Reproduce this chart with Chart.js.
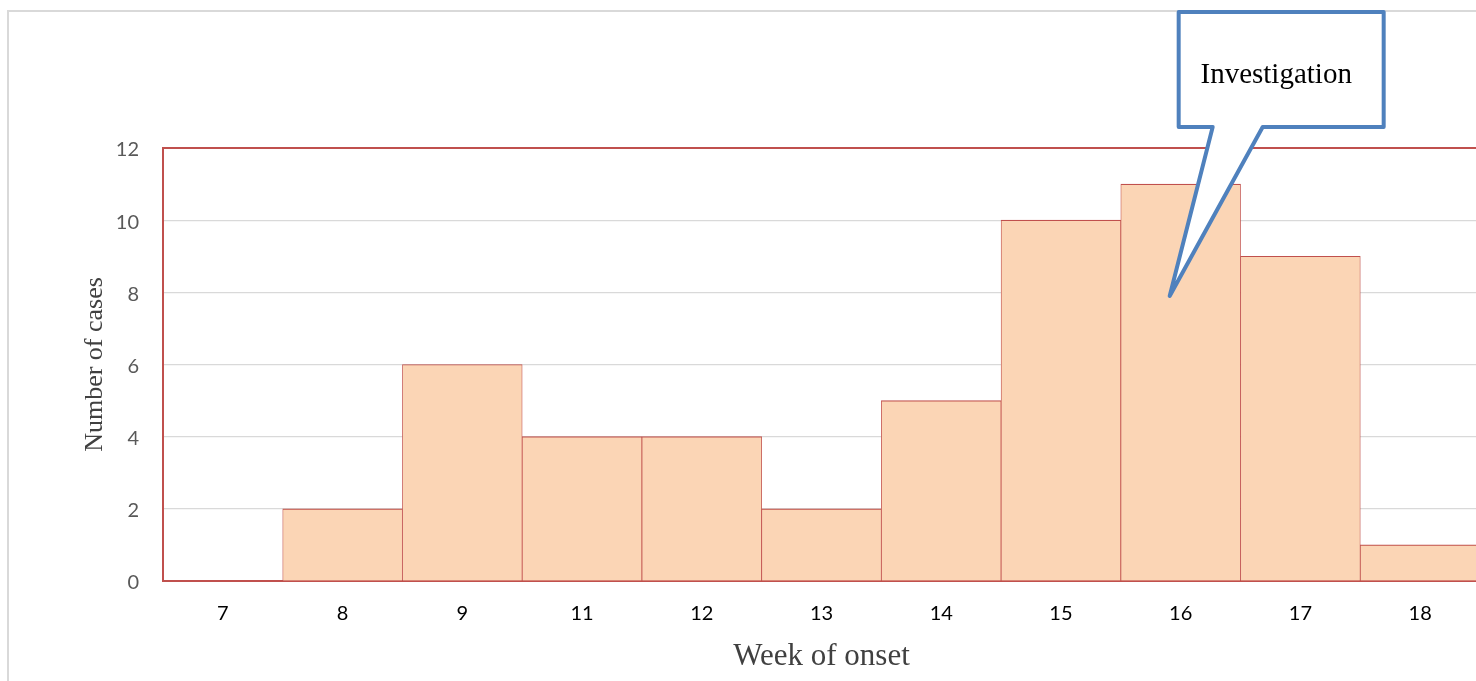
<!DOCTYPE html>
<html>
<head>
<meta charset="utf-8">
<title>Week of onset</title>
<script src="https://cdn.jsdelivr.net/npm/chart.js@4.4.1/dist/chart.umd.min.js"></script>
<style>
  html, body { margin: 0; padding: 0; background: #ffffff; overflow: hidden; width: 1476px; height: 681px; }
  #frame { position: absolute; left: 7px; top: 10px; width: 1540px; height: 740px; border: 2px solid #d9d9d9; box-sizing: border-box; }
  #wrap { position: absolute; left: 0; top: 0; width: 1484px; height: 681px; }
</style>
</head>
<body>
<div id="frame"></div>
<div id="wrap"><canvas id="chart" width="1484" height="681"></canvas></div>
<script>
// Cases by week of onset
const weeks = ['7', '8', '9', '11', '12', '13', '14', '15', '16', '17', '18'];
const cases = [0, 2, 6, 4, 4, 2, 5, 10, 11, 9, 1];
const yTickValues = [0, 2, 4, 6, 8, 10, 12];

// Callout label and the spot it points at
const calloutText = 'Investigation';
const calloutWeek = '16';
const calloutValue = 7.9;

const RED = '#C0504D';
const GRID = '#d9d9d9';

const calloutPlugin = {
  id: 'callout',
  afterDraw(chart) {
    const { ctx, scales } = chart;
    const idx = weeks.indexOf(calloutWeek);
    const tipX = scales.x.getPixelForValue(idx) - 11;
    const tipY = scales.y.getPixelForValue(calloutValue);
    // box geometry relative to the tip
    const left = tipX + 9, right = tipX + 214;
    const top = 12, bottom = 127;
    const baseL = tipX + 43, baseR = tipX + 93;
    ctx.save();
    ctx.beginPath();
    ctx.moveTo(left, top);
    ctx.lineTo(right, top);
    ctx.lineTo(right, bottom);
    ctx.lineTo(baseR, bottom);
    ctx.lineTo(tipX, tipY);
    ctx.lineTo(baseL, bottom);
    ctx.lineTo(left, bottom);
    ctx.closePath();
    ctx.fillStyle = '#ffffff';
    ctx.fill();
    ctx.lineWidth = 4;
    ctx.lineJoin = 'round';
    ctx.strokeStyle = '#4F81BD';
    ctx.stroke();
    ctx.fillStyle = '#000000';
    ctx.font = '29px "Liberation Serif", "Times New Roman", serif';
    ctx.textAlign = 'center';
    ctx.textBaseline = 'alphabetic';
    ctx.fillText(calloutText, (left + right) / 2 - 5, 83);
    ctx.restore();
  }
};

new Chart(document.getElementById('chart'), {
  type: 'bar',
  data: {
    labels: weeks,
    datasets: [{
      label: 'Number of cases',
      data: cases,
      backgroundColor: '#FBD5B5',
      borderColor: RED,
      borderWidth: { top: 1.2, left: 0.8, right: 0.8, bottom: 0 },
      borderSkipped: 'start',
      barPercentage: 1,
      categoryPercentage: 1
    }]
  },
  options: {
    responsive: false,
    animation: false,
    devicePixelRatio: 1,
    layout: { padding: { top: 148, left: 70, right: 4, bottom: 0 } },
    plugins: { legend: { display: false }, tooltip: { enabled: false } },
    scales: {
      x: {
        z: 1,
        grid: { display: false, drawTicks: false },
        border: { display: true, color: RED, width: 2 },
        ticks: {
          color: '#000000',
          font: { family: 'Lato', size: 20 },
          padding: 21,
          maxRotation: 0
        },
        title: {
          display: true,
          text: 'Week of onset',
          color: '#404040',
          font: { family: '"Liberation Serif"', size: 31 },
          padding: { top: 0, bottom: 6 }
        },
        afterFit(s) { s.height = 100; }
      },
      y: {
        min: 0,
        max: 12,
        afterBuildTicks(s) { s.ticks = yTickValues.map(v => ({ value: v })); },
        grid: {
          drawTicks: false,
          color: c => (c.tick && (c.tick.value === 12 || c.tick.value === 0)) ? RED : GRID,
          lineWidth: c => (c.tick && c.tick.value === 12) ? 2 : 1.2
        },
        border: { display: true, color: RED, width: 2 },
        ticks: {
          color: '#595959',
          font: { family: 'Lato', size: 20 },
          padding: 24,
          labelOffset: 2
        },
        title: {
          display: true,
          text: 'Number of cases',
          color: '#404040',
          font: { family: '"Liberation Serif"', size: 26 },
          padding: { top: 10, bottom: 0 }
        },
        afterFit(s) { s.width = 93; }
      }
    }
  },
  plugins: [calloutPlugin]
});
</script>
</body>
</html>
